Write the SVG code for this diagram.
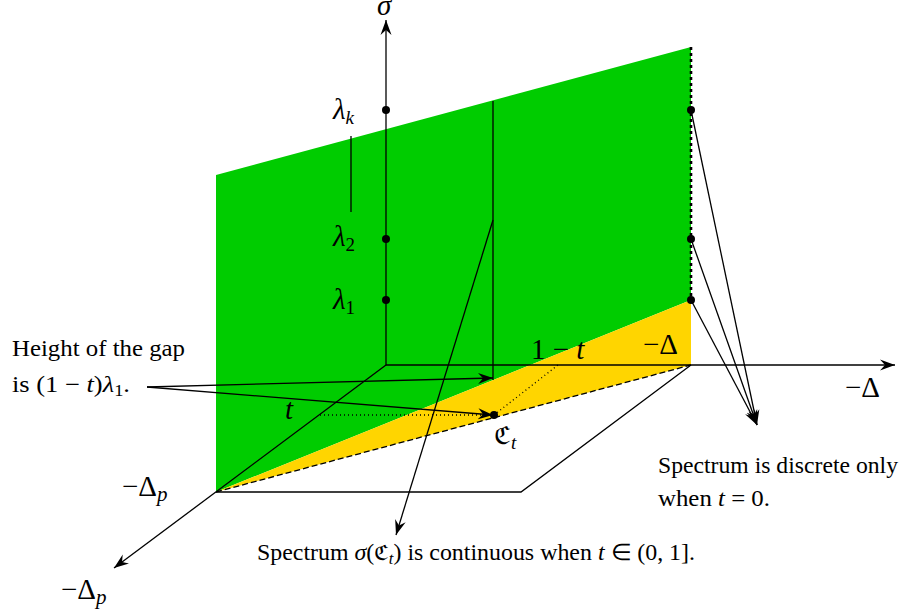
<svg xmlns="http://www.w3.org/2000/svg" width="902" height="615" viewBox="0 0 902 615">
<style>
.ln{stroke:#000;stroke-width:1.3;fill:none}
.tx{font-family:"Liberation Serif","Times New Roman",serif;font-size:23px;fill:#000}
.m{font-family:"Liberation Serif","Times New Roman",serif;font-size:29px;fill:#000}
.it{font-style:italic}
.dot{fill:#000}
</style>
<defs>
<marker id="ar" viewBox="-15 -6 16 12" refX="0" refY="0" markerWidth="16" markerHeight="12" markerUnits="userSpaceOnUse" orient="auto">
<path d="M0,0 L-15,-5.5 L-10,0 L-15,5.5 Z" fill="#000"/>
</marker>
</defs>
<g id="planes">
<polygon points="216,175 691,47 691,300 216,492" fill="#00cc00"/>
<polygon points="216,492 691,300 691,365" fill="#ffd500"/>
</g>
<g id="connectors">
<line class="ln" x1="386" y1="365" x2="386" y2="20" marker-end="url(#ar)"/>
<line class="ln" x1="386" y1="365" x2="895" y2="365" marker-end="url(#ar)"/>
<line class="ln" x1="386" y1="365" x2="114" y2="568" marker-end="url(#ar)"/>
<polyline class="ln" points="216,492 521,492 691,365"/>
<line class="ln" x1="216" y1="492" x2="691" y2="365" stroke-dasharray="6 3"/>
<line x1="691" y1="47" x2="691" y2="300" stroke="#000" stroke-width="2.6" stroke-dasharray="3 3"/>
<line class="ln" x1="493" y1="101" x2="493" y2="380"/>
<line class="ln" x1="351" y1="136" x2="351" y2="212"/>
<line class="ln" x1="320" y1="415" x2="494" y2="415" stroke-dasharray="1 3"/>
<line class="ln" x1="494" y1="415" x2="558" y2="365" stroke-dasharray="1 3"/>
<line class="ln" x1="147" y1="387" x2="493" y2="378" marker-end="url(#ar)"/>
<line class="ln" x1="147" y1="387" x2="493" y2="415" marker-end="url(#ar)"/>
<line class="ln" x1="493" y1="220" x2="396" y2="535" marker-end="url(#ar)"/>
<line class="ln" x1="691" y1="110" x2="757" y2="425" marker-end="url(#ar)"/>
<line class="ln" x1="691" y1="239" x2="757" y2="425" marker-end="url(#ar)"/>
<line class="ln" x1="691" y1="300" x2="757" y2="425" marker-end="url(#ar)"/>
</g>
<g id="points">
<circle class="dot" cx="386" cy="110" r="4"/>
<circle class="dot" cx="386" cy="239" r="4"/>
<circle class="dot" cx="386" cy="300" r="4"/>
<circle class="dot" cx="691" cy="110" r="4"/>
<circle class="dot" cx="691" cy="239" r="4"/>
<circle class="dot" cx="691" cy="300" r="4"/>
<circle class="dot" cx="494" cy="415" r="4"/>
</g>
<g id="labels">
<text class="m it" x="377" y="15">σ</text>
<text class="m" x="333" y="119"><tspan class="it">λ</tspan><tspan class="it" font-size="19" dy="5">k</tspan></text>
<text class="m" x="333" y="246"><tspan class="it">λ</tspan><tspan font-size="19" dy="5">2</tspan></text>
<text class="m" x="333" y="309"><tspan class="it">λ</tspan><tspan font-size="19" dy="5">1</tspan></text>
<text class="m" x="643" y="354">−Δ</text>
<text class="m" x="845" y="397">−Δ</text>
<text class="m" x="122" y="496">−Δ<tspan class="it" font-size="21" dy="5">p</tspan></text>
<text class="m" x="61" y="599">−Δ<tspan class="it" font-size="21" dy="5">p</tspan></text>
<text class="m it" x="285" y="419">t</text>
<text class="m" x="531" y="359">1 − <tspan class="it">t</tspan></text>
<text class="m" x="494" y="444"><tspan font-family="DejaVu Serif" font-size="25">ℭ</tspan><tspan class="it" font-size="19" dy="5">t</tspan></text>
</g>
<g id="notes">
<text class="tx" x="12" y="356" textLength="173" lengthAdjust="spacingAndGlyphs">Height of the gap</text>
<text class="tx" x="12" y="392" textLength="118" lengthAdjust="spacingAndGlyphs">is (1 − <tspan class="it">t</tspan>)<tspan class="it">λ</tspan><tspan font-size="16" dy="4">1</tspan><tspan dy="-4">.</tspan></text>
<text class="tx" x="658" y="473" textLength="240" lengthAdjust="spacingAndGlyphs">Spectrum is discrete only</text>
<text class="tx" x="658" y="506" textLength="112" lengthAdjust="spacingAndGlyphs">when <tspan class="it">t</tspan> = 0.</text>
<text class="tx" x="257" y="560" textLength="438" lengthAdjust="spacingAndGlyphs">Spectrum <tspan class="it">σ</tspan>(<tspan font-family="DejaVu Serif" font-size="21">ℭ</tspan><tspan class="it" font-size="16" dy="4">t</tspan><tspan dy="-4">) is continuous when </tspan><tspan class="it">t</tspan> ∈ (0, 1].</text>
</g>
</svg>
